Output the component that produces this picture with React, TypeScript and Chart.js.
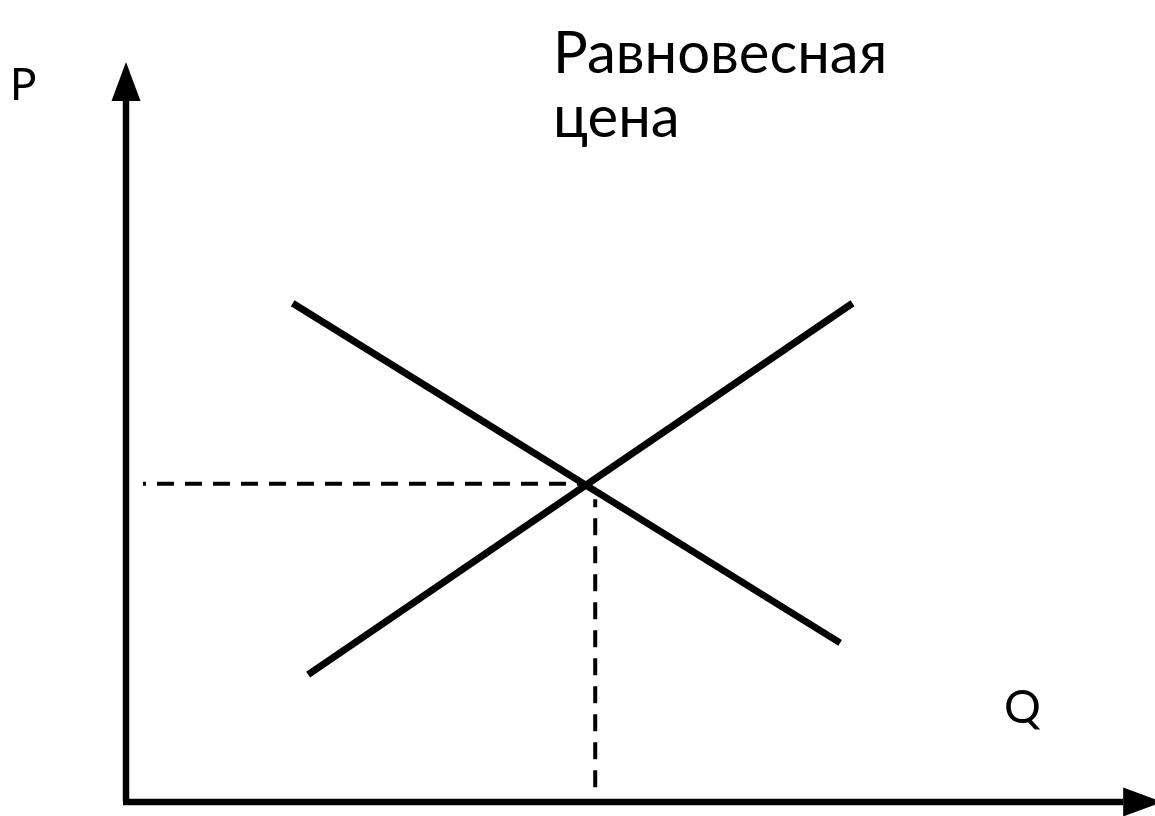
import React, { useEffect, useRef } from "react";
import { Chart, registerables } from "chart.js";

Chart.register(...registerables);

// Scale ranges (quantity Q on x, price P on y)
const Q_MIN = 0;
const Q_MAX = 10;
const P_MIN = 0;
const P_MAX = 10;

// Demand curve (downward sloping)
const demandQ = [1.62, 6.94];
const demandP = [6.74, 2.15];

// Supply curve (upward sloping)
const supplyQ = [1.77, 7.06];
const supplyP = [1.72, 6.74];

// Equilibrium guide lines
const hGuideQ = [0.165, 4.42];
const hGuideP = [4.3, 4.3];
const vGuideQ = [4.56, 4.56];
const vGuideP = [4.09, 0.19];

// Axis arrow tips
const axisTipQ = 10.07;
const axisTipP = 10;

// Labels
const titleLines = ["Равновесная", "цена"];
const yLabel = "P";
const xLabel = "Q";

const pts = (xs: number[], ys: number[]) => xs.map((x, i) => ({ x, y: ys[i] }));

const FONT = "Lato, 'Noto Sans', sans-serif";

const axesPlugin = {
  id: "axesAndLabels",
  beforeDatasetsDraw(chart: any) {
    const { ctx, scales } = chart;
    const xs = scales.x;
    const ys = scales.y;
    const ox = xs.getPixelForValue(0);
    const oy = ys.getPixelForValue(0);
    const tipX = xs.getPixelForValue(axisTipQ);
    const tipY = ys.getPixelForValue(axisTipP);
    const headLen = 39;
    const headHalf = 14.5;
    ctx.save();
    ctx.strokeStyle = "#000";
    ctx.fillStyle = "#000";
    ctx.lineWidth = 6.5;
    ctx.lineCap = "butt";
    // y axis
    ctx.beginPath();
    ctx.moveTo(ox, oy - 1);
    ctx.lineTo(ox, tipY + headLen);
    ctx.stroke();
    ctx.beginPath();
    ctx.moveTo(ox, tipY);
    ctx.lineTo(ox - headHalf, tipY + headLen);
    ctx.lineTo(ox + headHalf, tipY + headLen);
    ctx.closePath();
    ctx.fill();
    // x axis
    ctx.beginPath();
    ctx.moveTo(ox - 3, oy);
    ctx.lineTo(tipX - headLen, oy);
    ctx.stroke();
    ctx.beginPath();
    ctx.moveTo(tipX, oy);
    ctx.lineTo(tipX - headLen, oy - headHalf);
    ctx.lineTo(tipX - headLen, oy + headHalf);
    ctx.closePath();
    ctx.fill();
    ctx.restore();
  },
  afterDatasetsDraw(chart: any) {
    const { ctx } = chart;
    ctx.save();
    ctx.fillStyle = "#000";
    ctx.textBaseline = "alphabetic";
    ctx.textAlign = "left";
    ctx.font = `44px ${FONT}`;
    ctx.fillText(yLabel, 10, 100);
    ctx.font = `46px ${FONT}`;
    ctx.fillText(xLabel, 1004, 723);
    ctx.font = `58px ${FONT}`;
    titleLines.forEach((t, i) => ctx.fillText(t, 553, 73 + i * 64));
    ctx.restore();
  },
};

export default function App() {
  const ref = useRef<HTMLCanvasElement>(null);
  useEffect(() => {
    if (!ref.current) return;
    const lineStyle = {
      showLine: true,
      pointRadius: 0,
      borderColor: "#000",
      backgroundColor: "#000",
      fill: false,
      clip: false as any,
    };
    const chart = new Chart(ref.current, {
      type: "scatter",
      data: {
        datasets: [
          { ...lineStyle, label: "Спрос", data: pts(demandQ, demandP), borderWidth: 7 },
          { ...lineStyle, label: "Предложение", data: pts(supplyQ, supplyP), borderWidth: 7 },
          {
            ...lineStyle,
            label: "P*",
            data: pts(hGuideQ, hGuideP),
            borderWidth: 4,
            borderDash: [17, 11],
            borderDashOffset: 14,
          },
          {
            ...lineStyle,
            label: "Q*",
            data: pts(vGuideQ, vGuideP),
            borderWidth: 4,
            borderDash: [17, 11],
            borderDashOffset: 9,
          },
        ],
      },
      options: {
        animation: false,
        responsive: false,
        maintainAspectRatio: false,
        layout: { padding: { left: 126, right: 0, top: 62, bottom: 14 } },
        plugins: { legend: { display: false }, tooltip: { enabled: false } },
        events: [],
        scales: {
          x: { type: "linear", min: Q_MIN, max: Q_MAX, display: false },
          y: { type: "linear", min: P_MIN, max: P_MAX, display: false },
        },
      },
      plugins: [axesPlugin],
    });
    return () => chart.destroy();
  }, []);
  return (
    <div style={{ position: "absolute", left: 0, top: 0, width: 1155, height: 816, background: "#fff" }}>
      <canvas ref={ref} width={1155} height={816} style={{ display: "block" }} />
    </div>
  );
}
